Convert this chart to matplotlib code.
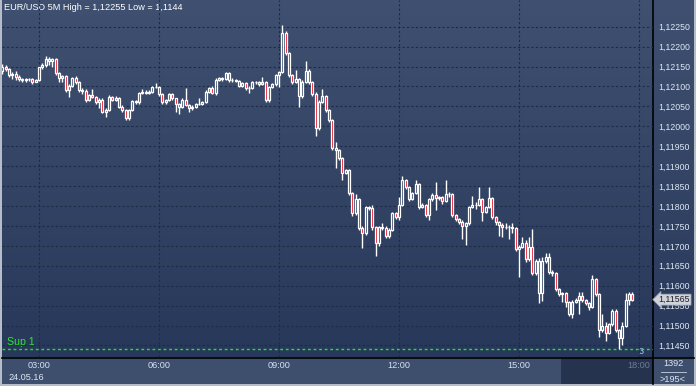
import numpy as np
import matplotlib
matplotlib.use("Agg")
import matplotlib.pyplot as plt
import matplotlib.transforms as mtransforms
from matplotlib.colors import LinearSegmentedColormap
from matplotlib.patches import Rectangle

plt.rcParams['font.family'] = ['Liberation Sans', 'DejaVu Sans']

symbol = "EUR/USD"
timeframe = "5M"
date_label = "24.05.16"
bars_total = 1392
bars_visible = 195
support = 1.1144
last_price = 1.11565

# 5 minute candles, bar 0 = 03:00
start_bar = -11
first_open = 1.12139
closes = [
    1.12150, 1.12144, 1.12129, 1.12131, 1.12123, 1.12118, 1.12116, 1.12118, 1.12118, 1.12112,
    1.12116, 1.12148, 1.12154, 1.12169, 1.12164, 1.12169, 1.12133, 1.12122, 1.12126, 1.12090,
    1.12101, 1.12121, 1.12110, 1.12091, 1.12089, 1.12066, 1.12079, 1.12074, 1.12060, 1.12066,
    1.12037, 1.12041, 1.12074, 1.12067, 1.12071, 1.12049, 1.12041, 1.12020, 1.12041, 1.12064,
    1.12060, 1.12084, 1.12087, 1.12084, 1.12087, 1.12099, 1.12099, 1.12080, 1.12060, 1.12066,
    1.12080, 1.12070, 1.12056, 1.12049, 1.12066, 1.12053, 1.12045, 1.12049, 1.12055, 1.12056,
    1.12062, 1.12087, 1.12095, 1.12084, 1.12116, 1.12120, 1.12118, 1.12133, 1.12116, 1.12116,
    1.12114, 1.12101, 1.12108, 1.12095, 1.12097, 1.12110, 1.12110, 1.12105, 1.12112, 1.12066,
    1.12099, 1.12105, 1.12129, 1.12137, 1.12233, 1.12183, 1.12129, 1.12112, 1.12118, 1.12076,
    1.12112, 1.12140, 1.12110, 1.12081, 1.11995, 1.12062, 1.12076, 1.12041, 1.12016, 1.11945,
    1.11941, 1.11920, 1.11884, 1.11890, 1.11832, 1.11782, 1.11817, 1.11746, 1.11731, 1.11797,
    1.11795, 1.11747, 1.11706, 1.11747, 1.11746, 1.11725, 1.11740, 1.11782, 1.11772, 1.11803,
    1.11865, 1.11847, 1.11817, 1.11832, 1.11855, 1.11797, 1.11803, 1.11777, 1.11817, 1.11828,
    1.11819, 1.11822, 1.11813, 1.11829, 1.11829, 1.11777, 1.11767, 1.11761, 1.11751, 1.11757,
    1.11798, 1.11803, 1.11803, 1.11817, 1.11786, 1.11797, 1.11819, 1.11772, 1.11759, 1.11752,
    1.11748, 1.11747, 1.11748, 1.11744, 1.11691, 1.11698, 1.11706, 1.11667, 1.11698, 1.11631,
    1.11662, 1.11581, 1.11662, 1.11671, 1.11635, 1.11631, 1.11591, 1.11578, 1.11581, 1.11558,
    1.11528, 1.11560, 1.11564, 1.11574, 1.11564, 1.11557, 1.11547, 1.11616, 1.11578, 1.11489,
    1.11500, 1.11482, 1.11503, 1.11537, 1.11489, 1.11468, 1.11500, 1.11564, 1.11579, 1.11565,
]
highs = [
    1.12156, 1.12155, 1.12147, 1.12137, 1.12139, 1.12129, 1.12121, 1.12121, 1.12121, 1.12120,
    1.12119, 1.12150, 1.12158, 1.12177, 1.12174, 1.12172, 1.12171, 1.12136, 1.12130, 1.12128,
    1.12105, 1.12125, 1.12127, 1.12113, 1.12097, 1.12093, 1.12082, 1.12093, 1.12077, 1.12070,
    1.12070, 1.12046, 1.12078, 1.12077, 1.12075, 1.12074, 1.12053, 1.12043, 1.12044, 1.12067,
    1.12067, 1.12087, 1.12093, 1.12090, 1.12091, 1.12102, 1.12108, 1.12102, 1.12083, 1.12069,
    1.12083, 1.12084, 1.12072, 1.12059, 1.12070, 1.12095, 1.12056, 1.12053, 1.12059, 1.12070,
    1.12064, 1.12090, 1.12099, 1.12101, 1.12120, 1.12125, 1.12123, 1.12137, 1.12136, 1.12120,
    1.12119, 1.12116, 1.12111, 1.12110, 1.12100, 1.12113, 1.12114, 1.12113, 1.12125, 1.12114,
    1.12102, 1.12108, 1.12132, 1.12140, 1.12255, 1.12238, 1.12186, 1.12132, 1.12141, 1.12121,
    1.12115, 1.12165, 1.12143, 1.12113, 1.12085, 1.12066, 1.12093, 1.12079, 1.12044, 1.12019,
    1.11961, 1.11944, 1.11923, 1.11893, 1.11893, 1.11835, 1.11829, 1.11820, 1.11750, 1.11800,
    1.11801, 1.11803, 1.11750, 1.11750, 1.11758, 1.11749, 1.11744, 1.11786, 1.11785, 1.11823,
    1.11875, 1.11868, 1.11850, 1.11836, 1.11865, 1.11858, 1.11807, 1.11806, 1.11820, 1.11832,
    1.11860, 1.11826, 1.11826, 1.11865, 1.11836, 1.11832, 1.11780, 1.11770, 1.11764, 1.11760,
    1.11801, 1.11825, 1.11810, 1.11847, 1.11820, 1.11800, 1.11847, 1.11822, 1.11775, 1.11762,
    1.11757, 1.11757, 1.11752, 1.11758, 1.11747, 1.11702, 1.11721, 1.11715, 1.11723, 1.11742,
    1.11667, 1.11670, 1.11673, 1.11681, 1.11683, 1.11640, 1.11634, 1.11594, 1.11585, 1.11584,
    1.11562, 1.11564, 1.11568, 1.11585, 1.11585, 1.11567, 1.11560, 1.11627, 1.11620, 1.11582,
    1.11528, 1.11508, 1.11507, 1.11541, 1.11541, 1.11492, 1.11508, 1.11582, 1.11584, 1.11583,
]
lows = [
    1.12132, 1.12140, 1.12125, 1.12118, 1.12116, 1.12114, 1.12111, 1.12112, 1.12113, 1.12105,
    1.12110, 1.12113, 1.12145, 1.12150, 1.12154, 1.12150, 1.12128, 1.12110, 1.12112, 1.12085,
    1.12074, 1.12098, 1.12106, 1.12087, 1.12080, 1.12062, 1.12063, 1.12071, 1.12056, 1.12045,
    1.12033, 1.12024, 1.12038, 1.12064, 1.12064, 1.12045, 1.12037, 1.12015, 1.12017, 1.12038,
    1.12056, 1.12057, 1.12080, 1.12080, 1.12081, 1.12084, 1.12096, 1.12077, 1.12055, 1.12055,
    1.12063, 1.12066, 1.12037, 1.12030, 1.12045, 1.12050, 1.12037, 1.12042, 1.12046, 1.12053,
    1.12054, 1.12059, 1.12084, 1.12080, 1.12078, 1.12113, 1.12114, 1.12115, 1.12112, 1.12112,
    1.12110, 1.12098, 1.12098, 1.12092, 1.12084, 1.12094, 1.12107, 1.12102, 1.12103, 1.12060,
    1.12062, 1.12096, 1.12102, 1.12099, 1.12135, 1.12180, 1.12125, 1.12105, 1.12109, 1.12049,
    1.12072, 1.12108, 1.12106, 1.12077, 1.11975, 1.11990, 1.12058, 1.12036, 1.12010, 1.11940,
    1.11895, 1.11915, 1.11865, 1.11880, 1.11827, 1.11776, 1.11778, 1.11740, 1.11695, 1.11727,
    1.11790, 1.11741, 1.11675, 1.11700, 1.11741, 1.11720, 1.11720, 1.11736, 1.11768, 1.11765,
    1.11800, 1.11843, 1.11812, 1.11814, 1.11829, 1.11792, 1.11794, 1.11773, 1.11765, 1.11813,
    1.11790, 1.11815, 1.11805, 1.11810, 1.11822, 1.11772, 1.11762, 1.11756, 1.11717, 1.11701,
    1.11753, 1.11795, 1.11793, 1.11800, 1.11762, 1.11782, 1.11794, 1.11768, 1.11752, 1.11725,
    1.11723, 1.11742, 1.11718, 1.11733, 1.11686, 1.11621, 1.11694, 1.11660, 1.11663, 1.11626,
    1.11626, 1.11557, 1.11562, 1.11658, 1.11630, 1.11625, 1.11586, 1.11573, 1.11560, 1.11547,
    1.11523, 1.11518, 1.11556, 1.11528, 1.11560, 1.11552, 1.11540, 1.11543, 1.11573, 1.11472,
    1.11484, 1.11462, 1.11478, 1.11499, 1.11485, 1.11440, 1.11452, 1.11497, 1.11551, 1.11562,
]

time_ticks = [0, 36, 72, 108, 144, 180]
time_labels = ["03:00", "06:00", "09:00", "12:00", "15:00", "18:00"]
price_ticks = [1.11450, 1.11500, 1.11550, 1.11600, 1.11650, 1.11700, 1.11750, 1.11800, 1.11850,
               1.11900, 1.11950, 1.12000, 1.12050, 1.12100, 1.12150, 1.12200, 1.12250]


def fmt(p, nd=5):
    return f"{p:.{nd}f}".replace(".", ",")


W, H = 696, 386
fig = plt.figure(figsize=(W / 100, H / 100), dpi=100)
fig.patch.set_facecolor("#b6bcc8")

# background panels drawn in pixel space
bg = fig.add_axes([0, 0, 1, 1])
bg.set_xlim(0, W)
bg.set_ylim(H, 0)
bg.axis("off")
grad = LinearSegmentedColormap.from_list("bg", ["#3f5070", "#27385a"])
bg.imshow(np.linspace(0, 1, 256).reshape(-1, 1), cmap=grad, aspect="auto",
          extent=(2, 694, 357, 0), zorder=0)
bg.add_patch(Rectangle((2, 357), 692, 27, fc="#3e4e6d", ec="none", zorder=1))
bg.add_patch(Rectangle((561, 358), 92, 26, fc="#25334e", ec="none", zorder=1))
bg.plot([653, 653], [0, 384], color="black", lw=1.2, zorder=2)
bg.plot([2, 694], [357.5, 357.5], color="black", lw=1.2, zorder=2)
bg.plot([661, 686], [372, 372], color="#c8d4e6", lw=0.6, zorder=2)
bg.set_xlim(0, W)
bg.set_ylim(H, 0)

bg.text(4, 8, f"{symbol} {timeframe} High = {fmt(max(highs))} Low = {fmt(min(lows)).rstrip('0')}",
        color="white", fontsize=6.6, va="center", ha="left")
bg.text(7, 342, "Sup 1", color="#2ee62e", fontsize=7.6, va="center")
bg.text(8, 377, date_label, color="#dde6f3", fontsize=6.6, va="center")
bg.text(673, 364, str(bars_total), color="#dde6f3", fontsize=6.6, va="center", ha="center")
bg.text(673, 379, f">{bars_visible}<", color="#dde6f3", fontsize=6.6, va="center", ha="center")
bg.text(641, 352, "3", color="#a8cdf2", fontsize=6.5, va="center", ha="center")

# main chart
ax = fig.add_axes([2 / W, (H - 357) / H, 651 / W, 357 / H])
ax.set_facecolor("none")
for s in ax.spines.values():
    s.set_visible(False)

opens = np.r_[first_open, closes[:-1]]
c = np.array(closes)
hi = np.array(highs)
lo = np.array(lows)
x = np.arange(start_bar, start_bar + len(c))
top = np.maximum(opens, c)
bot = np.minimum(opens, c)
up = c >= opens

ax.vlines(x, top, hi, color="white", lw=1.0, zorder=3)
ax.vlines(x, lo, bot, color="white", lw=1.0, zorder=3)
ax.bar(x[up], (top - bot)[up], bottom=bot[up], width=0.6, facecolor="none",
       edgecolor="white", lw=0.9, zorder=4)
ax.bar(x[~up], (top - bot)[~up], bottom=bot[~up], width=0.6, facecolor="#e60012",
       edgecolor="white", lw=0.9, zorder=4)

ax.axhline(support, color="#1ee81e", lw=1.0, ls=(0, (2, 2)), zorder=2)

ax.set_xlim(-11.1, 184.2)
ax.set_ylim(1.11421, 1.12317)

ax.set_yticks(price_ticks, [fmt(p) for p in price_ticks])
ax.yaxis.tick_right()
ax.tick_params(axis="y", length=0, pad=3.5, labelsize=6.3, labelcolor="#dfe8f5")
ax.set_xticks(time_ticks, time_labels)
ax.tick_params(axis="x", length=0, pad=3, labelsize=6.6, labelcolor="#d5e2f3")
ax.get_xticklabels()[-1].set_color("#6d7b94")
ax.grid(True, color="#1d2b48", lw=0.8, ls=(0, (2, 2)), zorder=1)
ax.set_axisbelow(True)

# last price tag (covers the 1,11550 label like the original terminal does)
trans = mtransforms.blended_transform_factory(ax.transAxes, ax.transData)
ax.text(1.0085, last_price, fmt(last_price), transform=trans, color="#1a1f2a", fontsize=6.3,
        va="center", ha="left", clip_on=False, zorder=6,
        bbox=dict(boxstyle="larrow,pad=0.12", fc="#cfd3da", ec="#8890a0", lw=0.5))

fig.savefig("out.png", dpi=100, facecolor=fig.get_facecolor())
